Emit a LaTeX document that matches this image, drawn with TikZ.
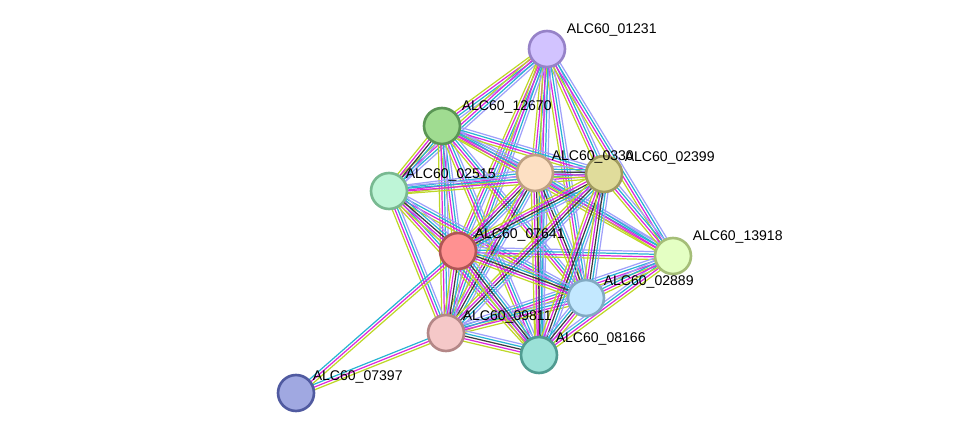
\documentclass[tikz,border=0pt]{standalone}
\usepackage{fontspec}
\setmainfont{Liberation Sans}
\usetikzlibrary{calc}
\definecolor{YG}{RGB}{190,215,40}
\definecolor{MG}{RGB}{220,40,220}
\definecolor{CY}{RGB}{40,180,210}
\definecolor{LV}{RGB}{160,160,250}
\definecolor{KG}{RGB}{60,60,60}
\tikzset{
    protein/.style={
           circle,
           draw, line width=1.5pt,
           minimum size=0.72cm,
           inner sep=0pt,
           },
    plabel/.style={font={\fontsize{8pt}{8}\selectfont}, anchor=south west, inner sep=1pt},
}
\newcommand{\lnk}[3]{%
  \foreach \c [count=\i] in {#3} {%
    \draw[\c, line width=0.7pt] ($(#1)!{\i*1.5pt-3.75pt}!90:(#2)$) -- ($(#2)!{\i*1.5pt-3.75pt}!-90:(#1)$);
  }%
}
\begin{document}
\begin{tikzpicture}[x=0.02cm,y=-0.02cm]
\useasboundingbox (0,0) rectangle (975,439);

% positions
\coordinate (P01231) at (547,49);
\coordinate (P12670) at (442,126);
\coordinate (P02515) at (389,191);
\coordinate (P0330)  at (535,173);
\coordinate (P02399) at (604,174);
\coordinate (P07641) at (458,251);
\coordinate (P13918) at (673,256);
\coordinate (P02889) at (586,298);
\coordinate (P09811) at (446,333);
\coordinate (P08166) at (539,355);
\coordinate (P07397) at (296,393);

% links
\foreach \a/\b in {P01231/P12670, P01231/P02515, P01231/P0330, P01231/P02399, P01231/P07641,
                   P01231/P02889, P01231/P13918, P01231/P08166, P01231/P09811,
                   P12670/P0330, P12670/P02399, P12670/P07641, P12670/P09811, P12670/P08166,
                   P12670/P02889, P12670/P13918,
                   P02515/P0330, P02515/P02399, P02515/P09811, P02515/P08166, P02515/P02889,
                   P0330/P13918, P02399/P13918, P07641/P13918, P09811/P13918, P08166/P13918,
                   P02889/P13918, P09811/P02889}
  {\lnk{\a}{\b}{YG,MG,CY,LV}}
\foreach \a/\b in {P12670/P02515, P02515/P07641, P0330/P02399, P0330/P07641, P0330/P09811,
                   P0330/P08166, P0330/P02889, P02399/P07641, P02399/P09811, P02399/P08166,
                   P02399/P02889, P07641/P09811, P07641/P08166, P07641/P02889,
                   P09811/P08166, P08166/P02889}
  {\lnk{\a}{\b}{YG,MG,KG,CY,LV}}
\lnk{P07397}{P07641}{YG,MG,CY}
\lnk{P07397}{P09811}{YG,MG,CY}

% proteins
\node[protein,draw={rgb,255:red,150;green,130;blue,200},fill={rgb,255:red,210;green,195;blue,255}] (N01231) at (P01231) {};
\node[protein,draw={rgb,255:red,90;green,150;blue,85},fill={rgb,255:red,160;green,220;blue,145}] (N12670) at (P12670) {};
\node[protein,draw={rgb,255:red,120;green,185;blue,145},fill={rgb,255:red,190;green,245;blue,215}] (N02515) at (P02515) {};
\node[protein,draw={rgb,255:red,190;green,160;blue,130},fill={rgb,255:red,253;green,224;blue,195}] (N0330) at (P0330) {};
\node[protein,draw={rgb,255:red,160;green,155;blue,95},fill={rgb,255:red,224;green,220;blue,155}] (N02399) at (P02399) {};
\node[protein,draw={rgb,255:red,175;green,85;blue,85},fill={rgb,255:red,255;green,145;blue,145}] (N07641) at (P07641) {};
\node[protein,draw={rgb,255:red,165;green,190;blue,120},fill={rgb,255:red,228;green,255;blue,195}] (N13918) at (P13918) {};
\node[protein,draw={rgb,255:red,130;green,170;blue,195},fill={rgb,255:red,195;green,232;blue,255}] (N02889) at (P02889) {};
\node[protein,draw={rgb,255:red,180;green,135;blue,135},fill={rgb,255:red,245;green,200;blue,200}] (N09811) at (P09811) {};
\node[protein,draw={rgb,255:red,80;green,155;blue,145},fill={rgb,255:red,155;green,225;blue,215}] (N08166) at (P08166) {};
\node[protein,draw={rgb,255:red,80;green,90;blue,160},fill={rgb,255:red,160;green,168;blue,225}] (N07397) at (P07397) {};

% labels
\node[plabel] at ($(N01231.north east)+(4,3)$) {ALC60\_01231};
\node[plabel] at ($(N12670.north east)+(4,3)$) {ALC60\_12670};
\node[plabel] at ($(N02515.north east)+(1,6)$) {ALC60\_02515};
\node[plabel] at ($(N0330.north east)+(1,6)$) {ALC60\_0330};
\node[plabel] at ($(N02399.north east)+(5,6)$) {ALC60\_02399};
\node[plabel] at ($(N07641.north east)+(1,6)$) {ALC60\_07641};
\node[plabel] at ($(N13918.north east)+(4,3)$) {ALC60\_13918};
\node[plabel] at ($(N02889.north east)+(2,6)$) {ALC60\_02889};
\node[plabel] at ($(N09811.north east)+(1,6)$) {ALC60\_09811};
\node[plabel] at ($(N08166.north east)+(1,6)$) {ALC60\_08166};
\node[plabel] at ($(N07397.north east)+(1,6)$) {ALC60\_07397};
\end{tikzpicture}
\end{document}
